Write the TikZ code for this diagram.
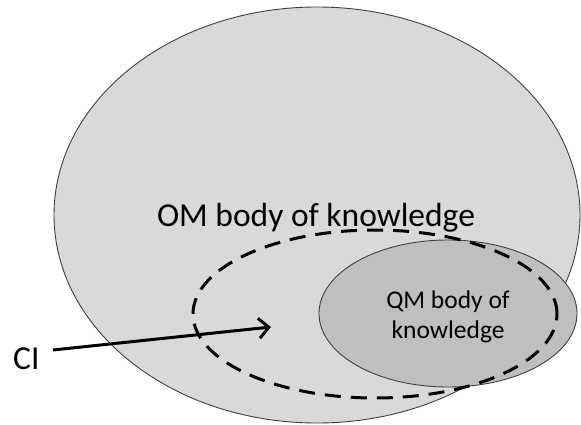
\documentclass[tikz,border=0pt]{standalone}
\usepackage{fontspec}
\setmainfont{Carlito}
\usetikzlibrary{shapes.geometric,arrows.meta}
\definecolor{outerfill}{HTML}{D9D9D9}
\definecolor{innerfill}{HTML}{BFBFBF}
\definecolor{rim}{HTML}{404040}
\tikzset{
  region/.style={ellipse, inner sep=0pt, draw=rim, line width=0.9pt},
  scopering/.style={ellipse, inner sep=0pt, draw=black, line width=3pt, dash pattern=on 16pt off 10pt},
  bigtext/.style={font=\fontsize{33.5}{40}\selectfont, inner sep=0pt},
  smalltext/.style={font=\fontsize{25.5}{30}\selectfont, inner sep=0pt, align=center},
  pointer/.style={line width=3pt, -{Straight Barb[length=10pt,width=20pt]}}
}
\begin{document}
\begin{tikzpicture}[x=1pt,y=1pt]
  \useasboundingbox (0,0) rectangle (581,424);
  % operations management field
  \node[region, fill=outerfill, minimum width=526pt, minimum height=416pt] (om) at (317,209) {};
  % quality management field
  \node[region, fill=innerfill, minimum width=258pt, minimum height=147pt] (qm) at (448,110.5) {};
  \node[smalltext, anchor=base] (qmlabel) at (448,86) {QM body of\\knowledge};
  \node[bigtext, anchor=base] (omlabel) at (316,198) {OM body of knowledge};
  % continuous improvement scope
  \node[scopering, minimum width=364pt, minimum height=168pt] (ciring) at (375,110) {};
  \node[bigtext, anchor=base west] (ci) at (13,55) {CI};
  \coordinate (cistart) at (53,74);
  \coordinate (citip) at (271,97);
  \draw[pointer] (cistart) -- (citip);
\end{tikzpicture}
\end{document}
